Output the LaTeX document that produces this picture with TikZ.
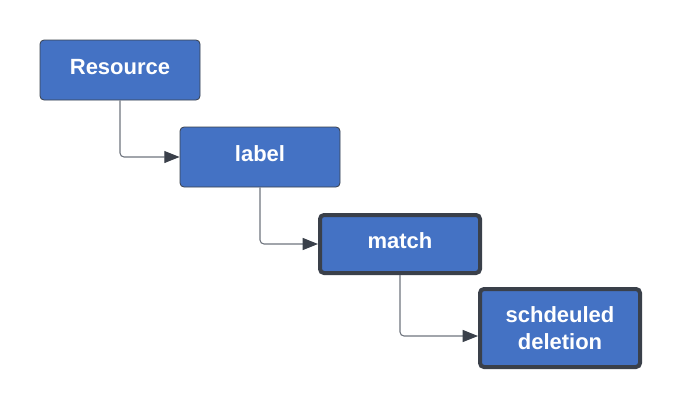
\documentclass[tikz,border=0pt]{standalone}
\usepackage{fontspec}
\setmainfont{Liberation Sans}
\usepackage{tikz}
\usetikzlibrary{positioning,arrows.meta}
\definecolor{boxclr}{RGB}{68,114,196}
\definecolor{edgeclr}{RGB}{58,64,74}
\definecolor{lineclr}{RGB}{110,116,126}

\begin{document}
\begin{tikzpicture}[
    x=0.75pt,
    y=-0.75pt,
    font=\fontsize{16.5}{20.5}\selectfont\bfseries,
    stepbox/.style={draw=edgeclr, fill=boxclr, text=white, rounded corners=3pt, line width=0.6pt, minimum width=120pt, minimum height=45pt, align=center, inner sep=0pt, text depth=4.5pt},
    keybox/.style={stepbox, line width=3pt, minimum height=43.5pt},
    flow/.style={-{Triangle[length=11.5pt, width=9pt, color=edgeclr]}, draw=lineclr, line width=0.8pt, rounded corners=3pt}
]
\useasboundingbox (0,0) rectangle (680,407);

% Steps.
\node[stepbox] (resource) at (120, 70) {Resource};
\node[stepbox] (label) at (260, 157) {label};
\node[keybox, minimum height=43.5pt] (match) at (400, 244) {match};
\node[keybox, minimum height=58.5pt, text depth=0pt] (deletion) at (560, 328) {schdeuled\\deletion};

% Links.
\draw[flow] (resource.south) |- (label.west);
\draw[flow] (label.south) |- (match.west);
\draw[flow] (match.south) |- ([yshift=-6pt]deletion.west);

\end{tikzpicture}
\end{document}
